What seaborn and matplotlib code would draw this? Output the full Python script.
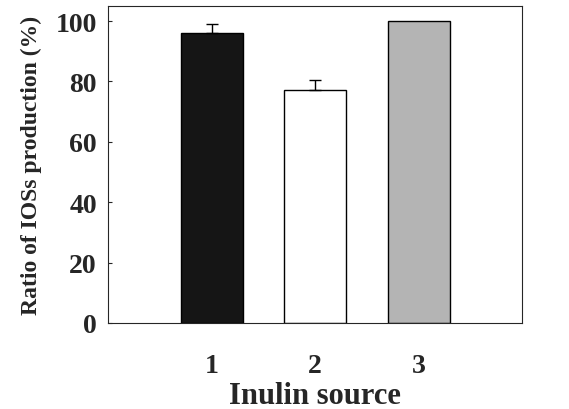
import matplotlib
matplotlib.use("Agg")
import matplotlib.pyplot as plt
import seaborn as sns
import pandas as pd

# Data
sources = ["1", "2", "3"]
ratio = [96.2, 77.0, 100.0]
err_up = [2.8, 3.5, 0.0]
bar_colors = ["#151515", "#ffffff", "#b4b4b4"]

df = pd.DataFrame({"source": sources, "ratio": ratio})

sns.set_style("ticks")
plt.rcParams["font.family"] = ["Liberation Serif", "DejaVu Serif"]
plt.rcParams["font.weight"] = "bold"

fig, ax = plt.subplots(figsize=(5.69, 4.10), dpi=100)
sns.barplot(data=df, x="source", y="ratio", hue="source", palette=bar_colors,
            width=0.6, edgecolor="black", linewidth=1.0, legend=False, ax=ax)

# upper-only error bars (bars with no error get none)
idx = [i for i, e in enumerate(err_up) if e > 0]
ax.errorbar(idx, [ratio[i] for i in idx],
            yerr=[[0] * len(idx), [err_up[i] for i in idx]], fmt="none",
            ecolor="black", elinewidth=1.0, capsize=4, capthick=1.0)

ax.set_xlim(-1, 3)
ax.set_ylim(0, 105)
ax.set_yticks([0, 20, 40, 60, 80, 100])
ax.tick_params(axis="y", direction="in", length=3, labelsize=20, pad=8)
ax.tick_params(axis="x", length=0, labelsize=20, pad=22)
for lbl in ax.get_xticklabels() + ax.get_yticklabels():
    lbl.set_fontweight("bold")
for s in ax.spines.values():
    s.set_visible(True)
    s.set_linewidth(0.8)

ax.set_xlabel("Inulin source", fontsize=22, fontweight="bold", labelpad=2)
ax.set_ylabel("Ratio of IOSs production (%)", fontsize=17, fontweight="bold", labelpad=10)

fig.subplots_adjust(left=0.19, right=0.918, top=0.983, bottom=0.21)
fig.savefig("out.png", dpi=100)
